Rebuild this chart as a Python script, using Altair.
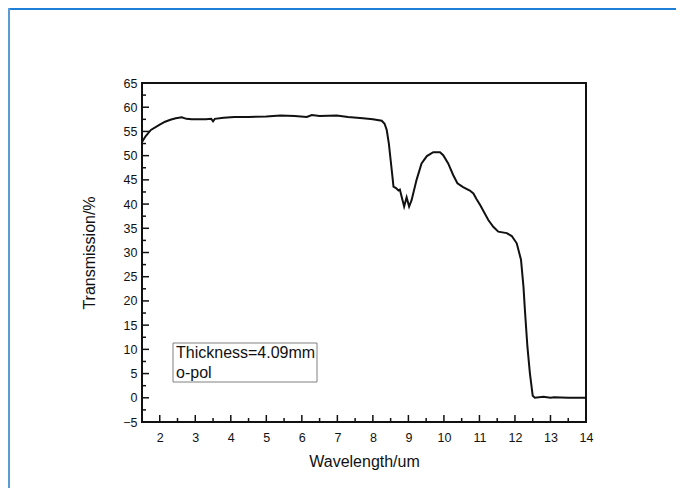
import altair as alt
import pandas as pd

# ---- data ----
wavelength = [1.5, 1.6, 1.75, 2.0, 2.15, 2.3, 2.45, 2.62, 2.75, 2.9, 3.1, 3.3, 3.45, 3.5, 3.55,
              3.8, 4.1, 4.5, 5.0, 5.4, 5.8, 6.14, 6.28, 6.5, 6.98, 7.3, 7.72, 8.0, 8.25, 8.33,
              8.39, 8.45, 8.5, 8.55, 8.58, 8.65, 8.72, 8.76, 8.81, 8.88, 8.95, 9.02, 9.09, 9.23,
              9.37, 9.52, 9.7, 9.89, 9.98, 10.12, 10.26, 10.38, 10.54, 10.73, 10.83, 10.92, 11.02,
              11.25, 11.39, 11.53, 11.77, 11.91, 12.05, 12.17, 12.24, 12.28, 12.35, 12.42, 12.5,
              12.56, 12.8, 13.0, 13.1, 13.5, 14.0]
transmission = [52.8, 54.0, 55.3, 56.4, 57.0, 57.4, 57.7, 57.9, 57.6, 57.5, 57.5, 57.5, 57.6, 57.1, 57.6,
                57.8, 58.0, 58.0, 58.1, 58.3, 58.2, 58.0, 58.4, 58.2, 58.3, 58.0, 57.7, 57.5, 57.2, 56.6,
                55.3, 52.5, 49.1, 45.7, 43.6, 43.3, 42.8, 43.0, 41.5, 39.5, 41.4, 39.5, 40.8, 45.0,
                48.4, 49.9, 50.7, 50.7, 50.1, 48.4, 46.0, 44.3, 43.5, 42.8, 42.2, 41.0, 39.8,
                36.7, 35.3, 34.3, 34.0, 33.4, 31.9, 28.5, 22.9, 18.1, 10.6, 5.1, 0.4,
                0.0, 0.2, 0.0, 0.1, 0.0, 0.0]

x_major = [2, 3, 4, 5, 6, 7, 8, 9, 10, 11, 12, 13]
x_minor = [2.5, 3.5, 4.5, 5.5, 6.5, 7.5, 8.5, 9.5, 10.5, 11.5, 12.5, 13.5]
x_labels = [2, 3, 4, 5, 6, 7, 8, 9, 10, 11, 12, 13, 14]
y_major = [0, 5, 10, 15, 20, 25, 30, 35, 40, 45, 50, 55, 60]
y_minor = [-2.5, 2.5, 7.5, 12.5, 17.5, 22.5, 27.5, 32.5, 37.5, 42.5, 47.5, 52.5, 57.5, 62.5]
y_labels = [-5, 0, 5, 10, 15, 20, 25, 30, 35, 40, 45, 50, 55, 60, 65]
legend_lines = ["Thickness=4.09mm", "o-pol"]
x_title = "Wavelength/um"
y_title = "Transmission/%"

W, H = 444, 339
PAD_L, PAD_T, PAD_R, PAD_B = 134, 75, 90, 66
FONT = "Liberation Sans"

xs = alt.Scale(domain=[1.5, 14], nice=False, zero=False)
ys = alt.Scale(domain=[-5, 65], nice=False, zero=False)

x_axis = alt.Axis(values=x_labels, tickSize=0, domain=False, grid=False,
                  labelFont=FONT, labelFontSize=12.5, labelColor="#111",
                  labelPadding=9, titleFont=FONT, titleFontSize=16,
                  titleFontWeight="normal", titleColor="#111", titlePadding=10,
                  labelFlush=False)
y_axis = alt.Axis(values=y_labels, tickSize=0, domain=False, grid=False,
                  labelFont=FONT, labelFontSize=12.5, labelColor="#111",
                  labelPadding=5, titleFont=FONT, titleFontSize=16,
                  titleFontWeight="normal", titleColor="#111", titlePadding=25,
                  labelFlush=False)

df = pd.DataFrame({"x": wavelength, "y": transmission})

line = alt.Chart(df).mark_line(color="#111111", strokeWidth=2, clip=True).encode(
    x=alt.X("x:Q", scale=xs, title=x_title, axis=x_axis),
    y=alt.Y("y:Q", scale=ys, title=y_title, axis=y_axis),
)

xmaj = alt.Chart(pd.DataFrame({"x": x_major})).mark_rule(color="#111", strokeWidth=1.5).encode(
    x=alt.X("x:Q", scale=xs, title=x_title, axis=x_axis), y=alt.value(H), y2=alt.value(H - 7))
xmin = alt.Chart(pd.DataFrame({"x": x_minor})).mark_rule(color="#111", strokeWidth=1.5).encode(
    x=alt.X("x:Q", scale=xs, title=x_title, axis=x_axis), y=alt.value(H), y2=alt.value(H - 4))
ymaj = alt.Chart(pd.DataFrame({"y": y_major})).mark_rule(color="#111", strokeWidth=1.5).encode(
    y=alt.Y("y:Q", scale=ys, title=y_title, axis=y_axis), x=alt.value(0), x2=alt.value(7))
ymin = alt.Chart(pd.DataFrame({"y": y_minor})).mark_rule(color="#111", strokeWidth=1.5).encode(
    y=alt.Y("y:Q", scale=ys, title=y_title, axis=y_axis), x=alt.value(0), x2=alt.value(4))

box = alt.Chart(pd.DataFrame({"a": [0]})).mark_rect(fill="white", stroke="#808080", strokeWidth=1).encode(
    x=alt.value(31), x2=alt.value(175), y=alt.value(260), y2=alt.value(299))
t1 = alt.Chart(pd.DataFrame({"t": [legend_lines[0]]})).mark_text(
    align="left", baseline="middle", font=FONT, fontSize=16, color="#111").encode(
    x=alt.value(34), y=alt.value(270), text="t:N")
t2 = alt.Chart(pd.DataFrame({"t": [legend_lines[1]]})).mark_text(
    align="left", baseline="middle", font=FONT, fontSize=16, color="#111").encode(
    x=alt.value(34), y=alt.value(290), text="t:N")

# window frame decoration (blue lines at the top and left edges)
frame_top = alt.Chart(pd.DataFrame({"a": [0]})).mark_rule(color="#1f7fd6", strokeWidth=2).encode(
    x=alt.value(-PAD_L), x2=alt.value(W + PAD_R), y=alt.value(-PAD_T + 1), y2=alt.value(-PAD_T + 1))
frame_left = alt.Chart(pd.DataFrame({"a": [0]})).mark_rule(color="#5b9bd5", strokeWidth=2).encode(
    x=alt.value(-PAD_L + 1), x2=alt.value(-PAD_L + 1), y=alt.value(-PAD_T), y2=alt.value(H + PAD_B))

chart = alt.layer(line, xmaj, xmin, ymaj, ymin, box, t1, t2, frame_top, frame_left).properties(
    width=W, height=H,
    padding={"left": PAD_L, "top": PAD_T, "right": PAD_R, "bottom": PAD_B},
    autosize=alt.AutoSizeParams(type="none"),
    background="white",
).configure_view(stroke="#111111", strokeWidth=2)

chart.save("out.html", embed_options={"renderer": "svg", "actions": False})
